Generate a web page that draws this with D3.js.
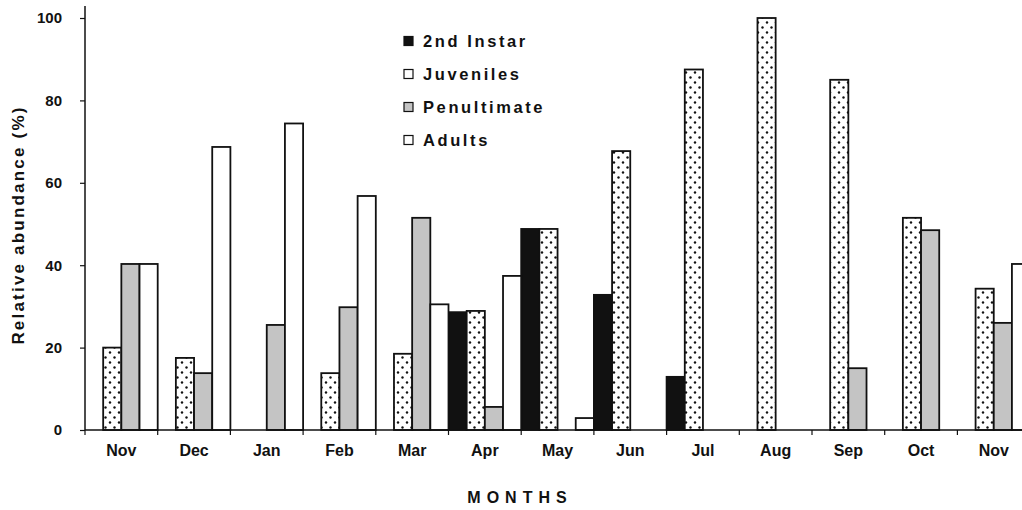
<!DOCTYPE html>
<html><head><meta charset="utf-8">
<script src="https://cdn.jsdelivr.net/npm/d3@7"></script>
<style>
body{margin:0;background:#fff;}
text{font-family:"Liberation Sans",Arial,sans-serif;font-weight:bold;fill:#111;}
</style></head>
<body><svg id="c" width="1022" height="510"></svg>
<script>
const months = ["Nov","Dec","Jan","Feb","Mar","Apr","May","Jun","Jul","Aug","Sep","Oct","Nov"];
const seriesNames = ["2nd Instar","Juveniles","Penultimate","Adults"];
const instar      = [0,0,0,0,0,28.6,48.8,32.8,12.9,0,0,0,0];
const juveniles   = [20,17.5,0,13.8,18.5,28.9,48.8,67.7,87.5,100,85,51.5,34.3];
const penultimate = [40.3,13.8,25.5,29.8,51.5,5.6,0,0,0,0,15,48.5,26];
const adults      = [40.3,68.7,74.4,56.8,30.5,37.4,2.9,0,0,0,0,0,40.3];
const yTicks = [0,20,40,60,80,100];

const svg = d3.select("#c");
const x0 = 85, bw = 72.7;
const x = d3.scaleBand().domain(d3.range(months.length)).range([x0, x0 + bw*months.length]).padding(0);
const xs = d3.scaleBand().domain(seriesNames).range([0, x.bandwidth()]).padding(0);
const y = d3.scaleLinear().domain([0,100]).range([430,18]);

const defs = svg.append("defs");
const pat = defs.append("pattern").attr("id","dots").attr("patternUnits","userSpaceOnUse")
  .attr("width",9).attr("height",10);
pat.append("rect").attr("width",9).attr("height",10).attr("fill","#fff");
pat.append("circle").attr("cx",2).attr("cy",2.5).attr("r",1.2).attr("fill","#111");
pat.append("circle").attr("cx",6.5).attr("cy",7.5).attr("r",1.2).attr("fill","#111");

const fills = {"2nd Instar":"#111","Juveniles":"url(#dots)","Penultimate":"#c4c4c4","Adults":"#fff"};
const allSeries = [instar, juveniles, penultimate, adults];

const data = [];
allSeries.forEach((arr,si)=>arr.forEach((v,mi)=>{ if(v>0) data.push({s:seriesNames[si], m:mi, v}); }));

svg.append("g").selectAll("rect").data(data).join("rect")
  .attr("x", d=>x(d.m)+xs(d.s))
  .attr("y", d=>y(d.v))
  .attr("width", xs.bandwidth())
  .attr("height", d=>y(0)-y(d.v))
  .attr("fill", d=>fills[d.s])
  .attr("stroke","#111").attr("stroke-width",1.8);

const tickFont = sel => sel.style("font-family","'Liberation Sans',Arial,sans-serif").style("font-weight","bold").attr("fill","#111");

// y axis
const ya = svg.append("g").attr("transform",`translate(${x0},0)`)
  .call(d3.axisLeft(y).tickValues(yTicks).tickSize(5).tickPadding(18));
ya.select(".domain").attr("d",`M0,6V${y(0)}`).attr("stroke","#111").attr("stroke-width",1.5);
ya.selectAll(".tick line").attr("stroke","#111").attr("stroke-width",1.2);
ya.selectAll(".tick text").style("font-size","15px").call(tickFont);

// x axis
const xa = svg.append("g").attr("transform",`translate(0,${y(0)})`)
  .call(d3.axisBottom(x).tickSize(0).tickPadding(15).tickFormat(i=>months[i]));
xa.select(".domain").attr("d",`M${x0},0H1030`).attr("stroke","#111").attr("stroke-width",1.5);
xa.selectAll(".tick text").style("font-size","16px").call(tickFont);
svg.append("g").selectAll("line").data(d3.range(months.length+1)).join("line")
  .attr("x1", i=>x0+i*x.step()).attr("x2", i=>x0+i*x.step())
  .attr("y1", y(0)).attr("y2", y(0)+5).attr("stroke","#111").attr("stroke-width",1.2);

// axis titles
svg.append("text").attr("transform","translate(24,225) rotate(-90)").attr("text-anchor","middle")
  .style("font-size","17px").style("letter-spacing","2.2px").text("Relative abundance  (%)");
svg.append("text").attr("x",520).attr("y",503).attr("text-anchor","middle")
  .style("font-size","16px").style("letter-spacing","6px").text("MONTHS");

// legend
const lg = svg.append("g").attr("transform","translate(404,41)");
const li = lg.selectAll("g").data(seriesNames).join("g").attr("transform",(d,i)=>`translate(0,${i*33})`);
li.append("rect").attr("x",0).attr("y",-4.5).attr("width",9).attr("height",9)
  .attr("fill",d=>d==="Juveniles"?"#fff":fills[d]).attr("stroke","#111").attr("stroke-width",1.2);
li.append("text").attr("x",19).attr("y",6).style("font-size","16.5px").style("letter-spacing","2.6px").text(d=>d);
</script></body></html>
